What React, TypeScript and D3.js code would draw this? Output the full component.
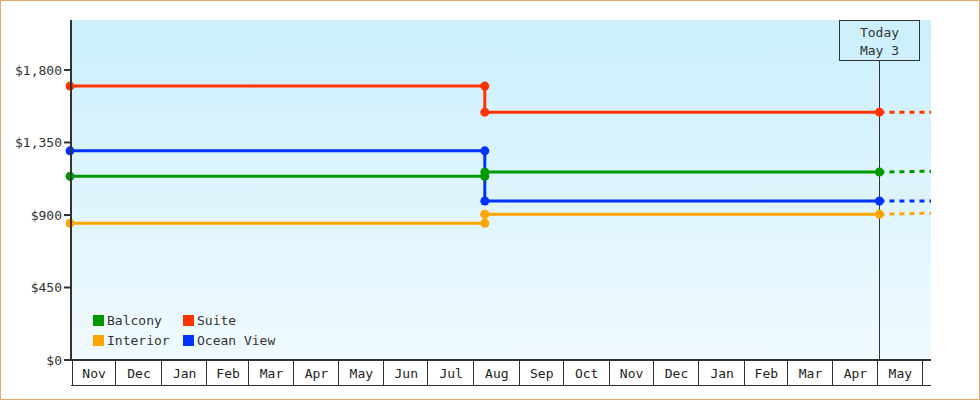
import React from "react";
import * as d3 from "d3";

const W = 980;
const H = 400;

const seriesNames = ["Balcony", "Suite", "Interior", "Ocean View"];
const seriesColors = ["#009900", "#FF3300", "#FFA500", "#0033FF"];

const startDate = new Date(2022, 10, 1);
const changeDate = new Date(2023, 7, 9);
const todayDate = new Date(2024, 4, 3);
const endDate = new Date(2024, 5, 7);

const priceBefore = [1140, 1700, 849, 1298];
const priceAfter = [1166, 1538, 904, 987];
const priceProjected = [1172, 1538, 911, 987];

const yTicks = [0, 450, 900, 1350, 1800];
const yMax = 2110;

const todayLabel = ["Today", "May 3"];

const FONT = "'DejaVu Sans Mono', monospace";

export default function App() {
  const left = 71;
  const right = 931;
  const top = 20;
  const bottom = 360;
  const axisBottom = 385;

  const x = d3.scaleTime().domain([startDate, endDate]).range([left, right]);
  const y = d3.scaleLinear().domain([0, yMax]).range([bottom, top]);

  const line = d3
    .line<[Date, number]>()
    .x((d) => x(d[0]))
    .y((d) => y(d[1]));

  const months = d3.timeMonth.range(startDate, endDate);
  const monthBounds = d3.timeMonth.range(startDate, d3.timeMonth.offset(endDate, 1));
  const fmtMonth = d3.timeFormat("%b");
  const fmtPrice = (v: number) => "$" + d3.format(",")(v);

  const order = [3, 1, 2, 0];

  return (
    <svg
      width={W}
      height={H}
      style={{ position: "absolute", left: 0, top: 0, display: "block" }}
      fontFamily={FONT}
    >
      <defs>
        <linearGradient id="bg" x1="0" y1="0" x2="0" y2="1">
          <stop offset="0%" stopColor="#CBEFFC" />
          <stop offset="100%" stopColor="#F0FAFF" />
        </linearGradient>
        <clipPath id="plotClip">
          <rect x={left} y={top} width={right - left} height={bottom - top} />
        </clipPath>
      </defs>
      <rect x={0.5} y={0.5} width={W - 1} height={H - 1} fill="#fff" stroke="#E8A868" />
      <rect x={left} y={top} width={right - left} height={bottom - top} fill="url(#bg)" />

      {/* today line */}
      <line
        x1={Math.round(x(todayDate)) + 0.5}
        x2={Math.round(x(todayDate)) + 0.5}
        y1={60}
        y2={bottom}
        stroke="#333"
        strokeWidth={1}
      />
      <rect
        x={839.5}
        y={20.5}
        width={80}
        height={40}
        fill="#CDF0FC"
        stroke="#333"
        strokeWidth={1}
      />
      {todayLabel.map((t, i) => (
        <text
          key={t}
          x={879.5}
          y={37 + i * 18}
          textAnchor="middle"
          fontSize={13}
          fill="#333"
        >
          {t}
        </text>
      ))}

      {/* series lines */}
      <g clipPath="url(#plotClip)">
        {order.map((i) => (
          <g key={"l" + i}>
            <path
              d={
                line([
                  [startDate, priceBefore[i]],
                  [changeDate, priceBefore[i]],
                  [changeDate, priceAfter[i]],
                  [todayDate, priceAfter[i]],
                ]) || ""
              }
              fill="none"
              stroke={seriesColors[i]}
              strokeWidth={3}
            />
            <path
              d={
                line([
                  [todayDate, priceAfter[i]],
                  [endDate, priceProjected[i]],
                ]) || ""
              }
              fill="none"
              stroke={seriesColors[i]}
              strokeWidth={3}
              strokeDasharray="5,5"
            />
          </g>
        ))}
      </g>
      {order.map((i) => (
        <g key={"m" + i} fill={seriesColors[i]}>
          {[
            [startDate, priceBefore[i]],
            [changeDate, priceBefore[i]],
            [changeDate, priceAfter[i]],
            [todayDate, priceAfter[i]],
          ].map((p, j) => (
            <circle
              key={j}
              cx={x(p[0] as Date) - (j === 0 ? 1 : 0)}
              cy={y(p[1] as number)}
              r={4.5}
            />
          ))}
        </g>
      ))}

      {/* y axis */}
      <line x1={left} x2={left} y1={top} y2={bottom + 1} stroke="#333" strokeWidth={2} />
      {yTicks.map((t) => (
        <g key={t}>
          <line x1={64} x2={left} y1={y(t)} y2={y(t)} stroke="#333" strokeWidth={2} />
          <text
            x={62}
            y={y(t)}
            dy="0.35em"
            textAnchor="end"
            fontSize={13}
            fill="#333"
          >
            {fmtPrice(t)}
          </text>
        </g>
      ))}

      {/* x axis */}
      <line x1={left - 1} x2={right} y1={bottom} y2={bottom} stroke="#333" strokeWidth={2} />
      <line x1={left} x2={right} y1={axisBottom + 0.5} y2={axisBottom + 0.5} stroke="#333" strokeWidth={1} />
      {monthBounds
        .filter((m) => x(m) <= right)
        .map((m) => {
          const px = Math.max(Math.round(x(m)), left + 1) + 0.5;
          return (
            <line
              key={"s" + m.getTime()}
              x1={px}
              x2={px}
              y1={bottom}
              y2={axisBottom}
              stroke="#333"
              strokeWidth={1}
            />
          );
        })}
      {months.map((m) => {
        const next = d3.timeMonth.offset(m, 1);
        const x0 = Math.max(x(m), left);
        const x1 = x(next);
        if (x1 > right + 1) return null;
        return (
          <text
            key={"t" + m.getTime()}
            x={(x0 + x1) / 2 + 1}
            y={373}
            dy="0.35em"
            textAnchor="middle"
            fontSize={13}
            fill="#222"
          >
            {fmtMonth(m)}
          </text>
        );
      })}

      {/* legend */}
      {seriesNames.map((n, i) => {
        const col = i % 2;
        const row = Math.floor(i / 2);
        const lx = 93 + col * 90;
        const ly = 315 + row * 20;
        return (
          <g key={n}>
            <rect x={lx} y={ly} width={11} height={11} fill={seriesColors[i]} />
            <text x={lx + 14} y={ly + 10} fontSize={13} fill="#333">
              {n}
            </text>
          </g>
        );
      })}
    </svg>
  );
}
